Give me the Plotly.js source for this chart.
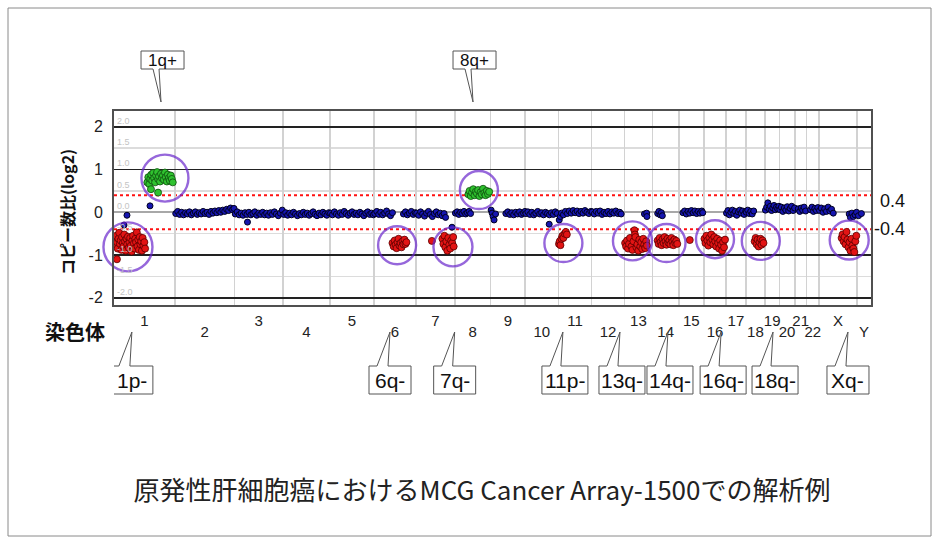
<!DOCTYPE html>
<html><head><meta charset="utf-8">
<script src="https://cdn.plot.ly/plotly-3.0.1.min.js"></script>
<style>html,body{margin:0;padding:0;background:#fff}#chart{width:939px;height:543px}</style>
</head><body><div id="chart"></div>
<script>
// ---------------- DATA ----------------
const chromNames = ['1','2','3','4','5','6','7','8','9','10','11','12','13','14','15','16','17','18','19','20','21','22','X','Y'];
const chromLengthsMb = [249,243,198,191,181,171,159,146,141,136,135,134,115,107,103,90,81,78,59,63,48,51,155,57];

// probes: [position in chromosome (Mb), log2 ratio]
const normal_1 = [[41,-0.30],[53,-0.07],[147,0.15]];
const normal_2 = [[3,-0.03],[11,0.02],[19,-0.05],[27,0.00],[35,-0.06],[43,-0.01],[51,-0.04],[59,0.01],[67,-0.06],[75,-0.02],[83,0.01],[91,-0.05],[99,-0.01],[107,-0.04],[115,0.02],[123,-0.03],[131,0.00],[139,-0.05],[147,0.02],[155,-0.02],[163,0.03],[171,-0.01],[179,0.04],[187,0.00],[195,0.05],[203,0.02],[211,0.07],[219,0.04],[227,0.10],[235,0.06],[241,0.09]];
const normal_3 = [[3,-0.04],[11,0.01],[19,-0.06],[27,-0.02],[35,-0.07],[43,-0.01],[51,-0.05],[53,-0.23],[59,0.00],[67,-0.06],[75,-0.03],[83,0.01],[91,-0.07],[99,-0.02],[107,-0.05],[115,0.00],[123,-0.06],[131,-0.02],[139,-0.07],[147,-0.01],[155,-0.05],[163,0.01],[171,-0.04],[179,-0.08],[187,-0.02],[195,0.05]];
const normal_4 = [[3,-0.05],[11,-0.01],[19,-0.07],[27,-0.02],[35,-0.06],[43,0.00],[51,-0.04],[59,-0.08],[67,-0.03],[75,-0.06],[83,0.00],[91,-0.05],[99,-0.02],[107,-0.07],[115,-0.03],[123,0.01],[131,-0.05],[139,-0.08],[147,-0.02],[155,-0.06],[163,0.00],[171,-0.04],[179,-0.07],[187,-0.01]];
const normal_5 = [[3,-0.02],[11,-0.06],[19,0.01],[27,-0.04],[35,-0.07],[43,-0.01],[51,-0.05],[59,0.02],[67,-0.03],[75,-0.07],[83,-0.02],[91,0.01],[99,-0.05],[107,-0.02],[115,-0.06],[123,0.00],[131,-0.04],[139,-0.08],[147,-0.02],[155,0.01],[163,-0.05],[171,-0.02],[178,-0.06]];
const normal_6 = [[3,-0.03],[11,0.02],[19,-0.05],[27,0.00],[35,-0.06],[43,-0.02],[51,0.03],[59,-0.04],[67,-0.08],[75,-0.01],[120,-0.04],[128,0.01],[136,-0.06],[144,-0.02],[152,0.02],[160,-0.05],[168,-0.01]];
const normal_7 = [[3,-0.02],[11,-0.07],[19,0.01],[27,-0.04],[35,-0.09],[43,-0.02],[51,0.02],[59,-0.05],[67,-0.10],[75,-0.03],[83,0.01],[91,-0.06],[99,-0.02],[107,-0.08],[115,-0.03],[121,-0.12],[147,-0.35]];
const normal_8 = [[2,-0.02],[9,0.01],[16,-0.05],[23,0.00],[30,-0.03],[37,0.02],[44,-0.04],[51,-0.01],[58,0.02],[64,-0.03]];
const normal_9 = [[2,0.05],[6,-0.02],[10,-0.10],[14,-0.18],[20,-0.04],[62,-0.03],[70,0.01],[78,-0.05],[86,-0.01],[94,-0.06],[102,0.00],[110,-0.04],[118,0.01],[126,-0.05],[134,-0.02],[140,0.02]];
const normal_10 = [[3,-0.03],[11,0.01],[19,-0.05],[27,0.00],[35,-0.06],[43,-0.02],[51,0.02],[59,-0.04],[67,-0.01],[75,-0.06],[83,0.00],[91,-0.03],[98,-0.28],[99,-0.06],[107,-0.01],[115,-0.05],[123,0.01],[131,-0.03]];
const normal_11 = [[3,-0.18],[7,-0.10],[12,-0.02],[20,-0.06],[28,0.02],[36,-0.03],[44,0.03],[52,-0.02],[60,0.04],[68,-0.01],[76,0.03],[84,-0.03],[92,0.02],[100,-0.02],[108,0.04],[116,0.00],[124,-0.03],[132,0.02]];
const normal_12 = [[3,0.01],[11,-0.04],[19,0.02],[27,-0.02],[35,0.03],[43,-0.05],[51,0.00],[59,-0.03],[67,0.02],[75,-0.04],[83,0.01],[91,-0.02],[99,0.03],[107,-0.03],[115,0.00],[121,-0.04]];
const normal_13 = [[82,-0.04],[91,-0.02],[92,-0.10]];
const normal_14 = [[21,-0.03],[26,0.02],[31,-0.06],[36,-0.01],[40,-0.08]];
const normal_15 = [[17,-0.01],[24,0.03],[31,-0.04],[38,0.02],[45,-0.02],[52,0.04],[59,-0.01],[66,0.03],[73,-0.03],[80,0.02],[87,-0.02],[94,0.03],[98,-0.01]];
const normal_17 = [[2,-0.02],[8,0.04],[14,-0.06],[20,0.00],[26,0.05],[32,-0.03],[38,0.02],[44,-0.07],[50,0.01],[56,0.05],[62,-0.02],[68,0.03],[74,-0.05],[80,0.02]];
const normal_18 = [[2,0.00],[8,0.05],[14,-0.03],[20,0.02],[26,-0.04],[32,0.03]];
const normal_19 = [[2,0.05],[7,0.12],[12,0.22],[17,0.08],[22,0.14],[27,0.04],[32,0.10],[37,0.16],[42,0.06],[47,0.12],[52,0.08],[57,0.14]];
const normal_20 = [[2,0.06],[8,0.12],[14,0.02],[20,0.10],[26,0.05],[32,0.13],[38,0.03],[44,0.09],[50,0.14],[56,0.04],[62,0.10]];
const normal_21 = [[14,0.08],[20,0.02],[26,0.10],[32,0.05],[38,0.12],[44,0.03]];
const normal_22 = [[16,0.06],[22,0.12],[28,0.02],[34,0.09],[40,0.04],[46,0.11]];
const normal_X = [[2,0.04],[9,0.10],[16,0.00],[23,0.08],[30,0.02],[37,0.12],[44,0.03],[51,0.07],[58,-0.02],[123,-0.04],[128,-0.12],[134,-0.02],[140,-0.10],[147,-0.06],[153,0.00]];
const normal_Y = [[6,-0.08],[18,-0.03]];

const loss_1 = [[3,-0.62],[6,-0.78],[9,-0.55],[12,-0.70],[15,-0.85],[18,-0.62],[21,-0.48],[24,-0.74],[27,-0.66],[30,-0.88],[33,-0.58],[36,-0.72],[39,-0.80],[42,-0.52],[45,-0.68],[48,-0.90],[51,-0.62],[54,-0.75],[57,-0.57],[60,-0.83],[63,-0.70],[66,-0.60],[69,-0.78],[72,-0.92],[75,-0.66],[78,-0.55],[81,-0.73],[84,-0.85],[87,-0.62],[90,-0.70],[93,-0.47],[96,-0.80],[99,-0.64],[102,-0.88],[105,-0.58],[108,-0.75],[111,-0.68],[114,-0.90],[117,-0.60],[120,-0.78],[124,-0.70],[127,-0.85],[12,-1.10]];
const loss_6 = [[75,-0.72],[80,-0.80],[84,-0.66],[88,-0.76],[92,-0.84],[96,-0.70],[100,-0.62],[104,-0.78],[108,-0.72],[112,-0.82],[116,-0.68],[120,-0.75],[124,-0.64],[128,-0.74],[132,-0.70]];
const loss_7 = [[65,-0.67],[108,-0.62],[112,-0.74],[116,-0.55],[120,-0.82],[124,-0.68],[128,-0.90],[132,-0.60],[136,-0.76],[140,-0.85],[144,-0.66],[148,-0.72],[152,-0.58],[154,-0.80]];
const loss_11 = [[2,-0.74],[5,-0.68],[8,-0.77],[12,-0.62],[16,-0.55],[20,-0.60],[25,-0.50],[30,-0.46],[34,-0.52]];
const loss_13 = [[3,-0.72],[7,-0.80],[11,-0.66],[15,-0.85],[19,-0.74],[23,-0.60],[29,-0.80],[33,-0.88],[37,-0.68],[41,-0.42],[43,-0.52],[45,-0.58],[49,-0.82],[53,-0.75],[57,-0.90],[61,-0.64],[65,-0.80],[69,-0.70],[73,-0.86],[77,-0.62],[81,-0.76],[85,-0.84],[89,-0.68],[92,-0.78]];
const loss_14 = [[21,-0.66],[25,-0.74],[29,-0.60],[33,-0.70],[37,-0.77],[41,-0.63],[45,-0.72],[49,-0.58],[53,-0.68],[57,-0.76],[61,-0.62],[65,-0.71],[69,-0.66],[73,-0.75],[77,-0.60],[81,-0.69],[85,-0.77],[89,-0.64],[93,-0.72],[97,-0.67],[101,-0.74]];
const loss_15 = [[45,-0.65]];
const loss_16 = [[2,-0.62],[6,-0.72],[10,-0.55],[14,-0.66],[18,-0.78],[22,-0.60],[26,-0.70],[30,-0.52],[34,-0.64],[38,-0.75],[42,-0.58],[46,-0.68],[50,-0.80],[54,-0.62],[58,-0.72],[62,-0.85],[66,-0.66],[70,-0.76],[74,-0.90],[78,-0.70],[82,-0.82],[86,-0.64]];
const loss_18 = [[36,-0.68],[40,-0.60],[44,-0.75],[48,-0.64],[52,-0.80],[56,-0.70],[60,-0.62],[64,-0.76],[68,-0.66],[72,-0.72]];
const loss_X = [[92,-0.60],[96,-0.52],[100,-0.68],[104,-0.58],[108,-0.75],[112,-0.46],[116,-0.64],[120,-0.82],[124,-0.70],[128,-0.90],[132,-0.62],[136,-0.78],[140,-0.85],[144,-0.93],[148,-0.68],[152,-0.55]];

const gain_1 = [[136,0.70],[140,0.82],[144,0.66],[148,0.78],[152,0.88],[156,0.74],[160,0.92],[164,0.80],[168,0.70],[172,0.86],[176,0.94],[180,0.78],[184,0.84],[188,0.72],[192,0.90],[196,0.80],[200,0.86],[204,0.76],[208,0.93],[212,0.82],[216,0.72],[220,0.88],[224,0.80],[228,0.74],[232,0.86],[236,0.78],[240,0.70],[151,0.54],[180,0.46]];
const gain_8 = [[55,0.42],[60,0.50],[65,0.38],[70,0.46],[75,0.54],[80,0.40],[85,0.48],[90,0.44],[95,0.52],[100,0.38],[105,0.47],[110,0.42],[115,0.55],[120,0.45],[125,0.40],[130,0.50],[135,0.43],[140,0.48]];

// highlighted aberrations (circles)
const highlightChrom = ['1','1','6','7','8','11','13','14','16','18','X'];
const highlightMb = [57,208,94,151,98,20,33,57,45,61,123];
const highlightLog2 = [-0.81,0.80,-0.77,-0.81,0.52,-0.72,-0.67,-0.72,-0.63,-0.67,-0.65];

// callouts
const calloutText = ['1q+','8q+','1p-','6q-','7q-','11p-','13q-','14q-','16q-','18q-','Xq-'];
const calloutChrom = ['1','8','1','6','7','11','12','14','16','19','X'];
const calloutMb = [192,74,73,65,158,18,116,63,70,33,118];

const thresholds = [0.4, -0.4];
const yTickVals = [-2,-1,0,1,2];
const yFineVals = [-2,-1.5,-1,-0.5,0,0.5,1,1.5,2];
const yFineText = ['-2.0','-1.5','-1.0','-0.5','0.0','0.5','1.0','1.5','2.0'];

// ---------------- BUILD ----------------
const chromStart = {};
let acc = 0;
chromNames.forEach((c,i)=>{ chromStart[c] = acc; acc += chromLengthsMb[i]; });
const genomeLen = acc;
const G = (c, mb) => chromStart[c] + mb;

function collect(list){
  const x=[], y=[];
  list.forEach(([c, arr]) => arr.forEach(([p,v]) => { x.push(G(c,p)); y.push(v); }));
  return {x, y};
}
const normal = collect([['1',normal_1],['2',normal_2],['3',normal_3],['4',normal_4],['5',normal_5],['6',normal_6],['7',normal_7],['8',normal_8],['9',normal_9],['10',normal_10],['11',normal_11],['12',normal_12],['13',normal_13],['14',normal_14],['15',normal_15],['17',normal_17],['18',normal_18],['19',normal_19],['20',normal_20],['21',normal_21],['22',normal_22],['X',normal_X],['Y',normal_Y]]);
const loss = collect([['1',loss_1],['6',loss_6],['7',loss_7],['11',loss_11],['13',loss_13],['14',loss_14],['15',loss_15],['16',loss_16],['18',loss_18],['X',loss_X]]);
const gain = collect([['1',gain_1],['8',gain_8]]);

const boundaries = chromNames.slice(1).map(c => chromStart[c]);
const centers = chromNames.map((c,i) => chromStart[c] + chromLengthsMb[i]/2);
const rowA = {v:[], t:[]}, rowB = {v:[], t:[]};
chromNames.forEach((c,i) => { const r = (i % 2 === 0 ? rowA : rowB); r.v.push(centers[i]); r.t.push(c); });

const circleSizes = [49,47,38,39,38,38,39,38,38,38,39];

const traces = [
  {type:'scatter', mode:'markers', x:normal.x, y:normal.y, hoverinfo:'skip', showlegend:false,
   marker:{size:6, color:'#1616b0', line:{color:'#000020', width:1}}},
  {type:'scatter', mode:'markers', x:loss.x, y:loss.y, hoverinfo:'skip', showlegend:false,
   marker:{size:7, color:'#e31414', line:{color:'#5a0000', width:0.8}}},
  {type:'scatter', mode:'markers', x:gain.x, y:gain.y, hoverinfo:'skip', showlegend:false,
   marker:{size:7, color:'#2fc22f', line:{color:'#0d4a0d', width:0.8}}},
  {type:'scatter', mode:'markers', x:highlightChrom.map((c,i)=>G(c,highlightMb[i])), y:highlightLog2,
   cliponaxis:false, hoverinfo:'skip', showlegend:false,
   marker:{symbol:'circle-open', size:circleSizes, color:'#6a26cc', line:{width:2.4}}},
  {type:'scatter', mode:'markers', x:[1000], y:[null], xaxis:'x2', yaxis:'y', hoverinfo:'skip', showlegend:false},
  {type:'scatter', mode:'markers', x:[1000], y:[null], xaxis:'x3', yaxis:'y', hoverinfo:'skip', showlegend:false},
  {type:'scatter', mode:'markers', x:[1000], y:[null], xaxis:'x', yaxis:'y2', hoverinfo:'skip', showlegend:false}
];

const L = 114, R = 68, T = 111, B = 238, W = 939, H = 543;
const pw = W - L - R, ph = H - T - B;
const px2paperX = px => (px - L)/pw;
const px2paperY = py => (H - B - py)/ph;

const tickFont = {family:'Liberation Sans, Arial, sans-serif', size:15, color:'#222'};

const shapes = [];
thresholds.forEach(t => shapes.push({type:'line', xref:'paper', x0:0, x1:1, yref:'y', y0:t, y1:t,
  line:{color:'#ff1010', width:2, dash:'dot'}, layer:'below'}));
// outer frame
shapes.push({type:'rect', xref:'paper', yref:'paper', x0:px2paperX(8), x1:px2paperX(931), y0:px2paperY(536), y1:px2paperY(8),
  line:{color:'#8a8a8a', width:1}, fillcolor:'rgba(0,0,0,0)', layer:'below'});

const annotations = [];
calloutText.forEach((txt,i) => {
  const top = i < 2;
  const w = txt.length >= 4 ? 46 : (top ? 43 : 42);
  const gx = G(calloutChrom[i], calloutMb[i]);
  let path;
  if (top) {
    path = `M -20,42 L -8,42 L 0,9 L -2,42 L ${w-20},42 L ${w-20},60 L -20,60 Z`;
  } else {
    path = `M -21,-61 L -13,-61 L 0,-27 L -2,-61 L ${w-21},-61 L ${w-21},-89 L -21,-89 Z`;
  }
  shapes.push({type:'path', xref:'x', xsizemode:'pixel', xanchor:gx, yref:'paper', ysizemode:'pixel', yanchor: top?1:0,
    path, fillcolor:'#ffffff', line:{color:'#555', width:1}, layer:'above'});
  annotations.push({xref:'x', x:gx, yref:'paper', y: top?1:0, xanchor:'center', yanchor:'middle',
    xshift: top ? (w/2-20) : (w/2-21), yshift: top ? 51 : -75, showarrow:false, text:txt,
    font: top ? {family:'Liberation Sans, Arial, sans-serif', size:17, color:'#111'}
              : {family:'Liberation Sans Narrow, Arial Narrow, Liberation Sans, sans-serif', size:21, color:'#111'}});
});

annotations.push({xref:'paper', x:1, xanchor:'right', xshift:36, yref:'y', y:0.4, yshift:-6, yanchor:'middle',
  text:'0.4', showarrow:false, font:{family:'Liberation Sans, Arial, sans-serif', size:18, color:'#111'}});
annotations.push({xref:'paper', x:1, xanchor:'right', xshift:36, yref:'y', y:-0.4, yanchor:'middle',
  text:'-0.4', showarrow:false, font:{family:'Liberation Sans, Arial, sans-serif', size:18, color:'#111'}});
annotations.push({xref:'paper', yref:'paper', x:px2paperX(67), y:px2paperY(212), xanchor:'center', yanchor:'middle', textangle:-90,
  text:'コピー数比(log2)', showarrow:false, font:{family:'Noto Sans CJK JP, sans-serif', size:16, weight:'bold', color:'#111'}});
annotations.push({xref:'paper', yref:'paper', x:px2paperX(75), y:px2paperY(331), xanchor:'center', yanchor:'middle',
  text:'染色体', showarrow:false, font:{family:'Noto Sans CJK JP, sans-serif', size:20, weight:'bold', color:'#111'}});

const layout = {
  width:W, height:H, margin:{l:L, r:R, t:T, b:B, pad:0},
  paper_bgcolor:'#fff', plot_bgcolor:'#fff', showlegend:false,
  title:{text:'原発性肝細胞癌におけるMCG Cancer Array-1500での解析例', x:482/W, xref:'container', xanchor:'center',
    y:(H-491)/H, yref:'container', yanchor:'middle',
    font:{family:'Noto Sans CJK JP, sans-serif', size:26, color:'#222'}},
  xaxis:{range:[0, genomeLen], tickmode:'array', tickvals:boundaries, showticklabels:false, ticks:'',
    showgrid:true, gridcolor:'#d2d2d2', gridwidth:1.5, zeroline:false,
    showline:true, mirror:true, linecolor:'#505050', linewidth:2, fixedrange:true},
  xaxis2:{overlaying:'x', anchor:'y', side:'bottom', range:[0, genomeLen], tickmode:'array', tickvals:rowA.v, ticktext:rowA.t,
    showgrid:false, zeroline:false, showline:false, ticks:'', tickfont:tickFont, ticklabelstandoff:5, fixedrange:true},
  xaxis3:{overlaying:'x', anchor:'y', side:'bottom', range:[0, genomeLen], tickmode:'array', tickvals:rowB.v, ticktext:rowB.t,
    showgrid:false, zeroline:false, showline:false, ticks:'', tickfont:tickFont, ticklabelstandoff:16, fixedrange:true},
  yaxis:{range:[-2.17, 2.37], tickmode:'array', tickvals:yTickVals, ticktext:yTickVals.map(String), ticks:'',
    tickfont:{family:'Liberation Sans, Arial, sans-serif', size:16, color:'#222'}, ticklabelstandoff:6,
    showgrid:true, gridcolor:'#222', gridwidth:1.6, zeroline:true, zerolinecolor:'#a8a8a8', zerolinewidth:1.6,
    minor:{tickvals:[-1.5,-0.5,0.5,1.5], showgrid:true, gridcolor:'#dcdcdc', gridwidth:1.6, ticks:''},
    showline:true, mirror:true, linecolor:'#505050', linewidth:2, fixedrange:true},
  yaxis2:{overlaying:'y', side:'left', anchor:'x', range:[-2.17, 2.37], tickmode:'array', tickvals:yFineVals, ticktext:yFineText,
    ticklabelposition:'inside top', ticks:'', showgrid:false, zeroline:false, showline:false,
    tickfont:{family:'Liberation Sans, Arial, sans-serif', size:9, color:'#c4c4c4'}, fixedrange:true},
  shapes, annotations
};

Plotly.newPlot('chart', traces, layout, {staticPlot:true, displayModeBar:false});
</script>
</body></html>
